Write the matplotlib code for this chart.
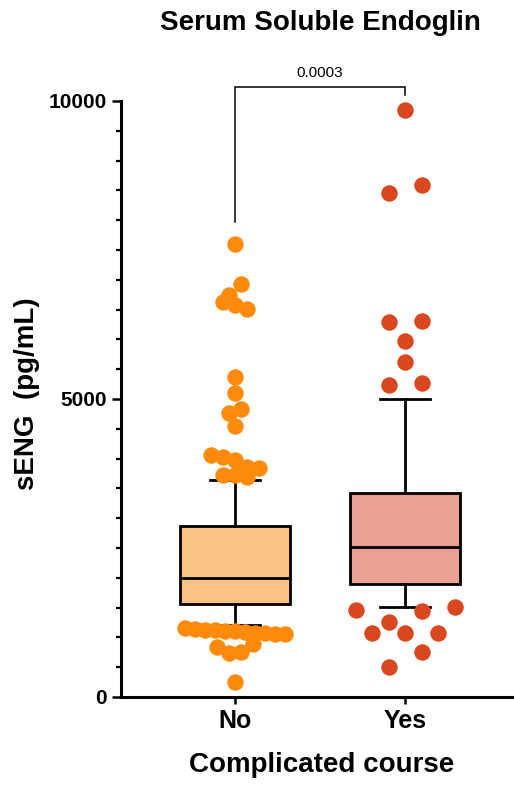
import matplotlib
matplotlib.use("Agg")
import matplotlib.pyplot as plt
import numpy as np

plt.rcParams['font.family'] = ['Liberation Sans', 'DejaVu Sans']

# data (pg/mL)
groups = ['No', 'Yes']
no_points = [7600, 6930, 6750, 6630, 6580, 6510, 5370, 5100, 4830, 4770, 4550,
             4060, 4030, 3980, 3860, 3840, 3725, 3720, 3690,
             1150, 1140, 1130, 1120, 1110, 1100, 1090, 1080, 1070, 1060, 1050,
             890, 839, 760, 738, 252]
yes_points = [9850, 8590, 8460, 6310, 6290, 5970, 5620, 5270, 5235,
              1510, 1460, 1445, 1260, 1075, 1075, 1070, 755, 505]
whisker_low = [1200, 1510]
box_q1 = [1560, 1896]
box_median = [1997, 2517]
box_q3 = [2870, 3423]
whisker_high = [3640, 5000]
p_value = '0.0003'

dot_colors = ['#FF8A0C', '#D8471F']
box_colors = ['#FCC283', '#E9A292']


def row_offsets(values, ypx, bin_px, step_px, max_px):
    # Prism-like scatter: bin points into rows, spread each row symmetrically
    vals = np.asarray(values, float)
    order = np.argsort(-vals, kind='stable')
    offs = np.zeros(len(vals))
    i = 0
    while i < len(order):
        j = i
        while j + 1 < len(order) and abs(ypx[order[j + 1]] - ypx[order[i]]) <= bin_px:
            j += 1
        row = order[i:j + 1]
        n = len(row)
        if n > 1:
            s = min(step_px, max_px / (n - 1))
            slots = (np.arange(n) - (n - 1) / 2) * s
            if n % 2 == 0:
                # even rows fill from the outside in, right side first
                slots = np.array(sorted(slots, key=lambda o: (-abs(o), -o)))
            offs[row] = slots
        i = j + 1
    return offs


fig = plt.figure(figsize=(5.14, 7.85), dpi=100)
ax = fig.add_axes([121 / 514, 88 / 785, 393 / 514, 596 / 785])
ax.set_xlim(-0.67, 1.64)
ax.set_ylim(0, 10000)

stats = []
for k in range(2):
    stats.append({'whislo': whisker_low[k], 'q1': box_q1[k], 'med': box_median[k],
                  'q3': box_q3[k], 'whishi': whisker_high[k], 'fliers': []})
bp = ax.bxp(stats, positions=[0, 1], widths=0.647, capwidths=0.29, patch_artist=True,
            showfliers=False,
            boxprops=dict(edgecolor='black', linewidth=2.0),
            whiskerprops=dict(color='black', linewidth=2.0),
            capprops=dict(color='black', linewidth=2.0),
            medianprops=dict(color='black', linewidth=2.0), zorder=2)
for patch, c in zip(bp['boxes'], box_colors):
    patch.set_facecolor(c)

x_px = ax.transData.transform((1, 0))[0] - ax.transData.transform((0, 0))[0]
settings = [(12, 100), (33, 110)]
for k, pts in enumerate([no_points, yes_points]):
    pts = np.asarray(pts, float)
    ypx = ax.transData.transform(np.column_stack([np.zeros(len(pts)), pts]))[:, 1]
    offs = row_offsets(pts, ypx, 15, settings[k][0], settings[k][1])
    ax.scatter(k + offs / x_px, pts, s=140, color=dot_colors[k], linewidths=0, zorder=3,
               clip_on=False)

# significance bracket
ax.plot([0, 0, 1, 1], [7970, 10236, 10236, 10100], color='black', lw=1.1,
        clip_on=False, solid_joinstyle='miter')
ax.text(0.5, 10404, p_value, ha='center', va='baseline', fontsize=11)

ax.spines['top'].set_visible(False)
ax.spines['right'].set_visible(False)
ax.spines['left'].set_linewidth(2.2)
ax.spines['bottom'].set_linewidth(2.2)

ax.set_yticks([0, 5000, 10000])
ax.set_yticks(np.arange(0, 10001, 500), minor=True)
ax.set_xticks([0, 1])
ax.set_xticklabels(groups)
ax.tick_params(axis='y', which='major', length=6.5, width=1.8, pad=3.6, labelsize=15)
ax.tick_params(axis='y', which='minor', length=3.6, width=1.6)
ax.tick_params(axis='x', which='major', length=5, width=1.8, pad=4, labelsize=18)
for lab in ax.get_xticklabels() + ax.get_yticklabels():
    lab.set_fontweight('bold')

fig.text(320 / 514, 1 - 23 / 785, 'Serum Soluble Endoglin', ha='center', va='center',
         fontsize=20, fontweight='bold')
fig.text(322 / 514, 1 - 772 / 785, 'Complicated course', ha='center', va='baseline',
         fontsize=20, fontweight='bold')
fig.text(27 / 514, 1 - 394 / 785, 'sENG  (pg/mL)', ha='center', va='center',
         rotation=90, fontsize=20, fontweight='bold')

fig.savefig('out.png', dpi=100)
